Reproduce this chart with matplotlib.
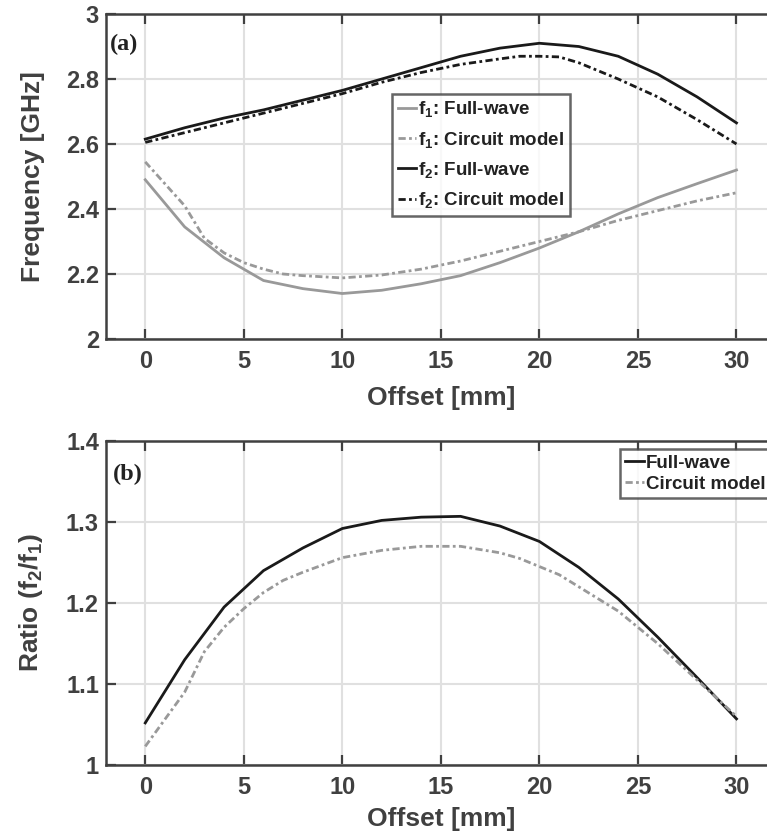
import matplotlib
matplotlib.use("Agg")
import matplotlib.pyplot as plt

plt.rcParams['font.family'] = ['Liberation Sans', 'DejaVu Sans']
plt.rcParams['font.weight'] = 'bold'
plt.rcParams['mathtext.fontset'] = 'custom'
plt.rcParams['mathtext.rm'] = 'Liberation Sans:bold'
plt.rcParams['mathtext.it'] = 'Liberation Sans:bold'
plt.rcParams['mathtext.bf'] = 'Liberation Sans:bold'

# ---- data ----
offset = [0, 2, 4, 6, 8, 10, 12, 14, 16, 18, 20, 22, 24, 26, 28, 30]
f1_full = [2.49, 2.345, 2.25, 2.18, 2.155, 2.14, 2.15, 2.17, 2.195, 2.235, 2.28, 2.33, 2.385, 2.435, 2.478, 2.52]
f2_full = [2.615, 2.65, 2.68, 2.705, 2.735, 2.765, 2.80, 2.835, 2.87, 2.895, 2.91, 2.90, 2.87, 2.815, 2.745, 2.665]

offset_cm = [0, 2, 3, 4, 5, 6, 7, 8, 10, 12, 14, 16, 18, 19, 20, 21, 22, 24, 26, 28, 30]
f1_circuit = [2.545, 2.41, 2.31, 2.265, 2.235, 2.215, 2.20, 2.195, 2.188, 2.197, 2.215, 2.24, 2.27, 2.285, 2.30, 2.315, 2.33, 2.365, 2.395, 2.425, 2.45]
f2_circuit = [2.605, 2.635, 2.65, 2.665, 2.68, 2.695, 2.71, 2.725, 2.755, 2.79, 2.82, 2.845, 2.862, 2.87, 2.87, 2.868, 2.85, 2.80, 2.745, 2.675, 2.60]

ratio_full = [1.052, 1.13, 1.195, 1.24, 1.268, 1.292, 1.302, 1.306, 1.307, 1.295, 1.276, 1.244, 1.205, 1.158, 1.108, 1.057]
ratio_circuit = [1.023, 1.09, 1.14, 1.17, 1.193, 1.213, 1.228, 1.238, 1.256, 1.265, 1.27, 1.27, 1.262, 1.255, 1.245, 1.235, 1.22, 1.19, 1.15, 1.105, 1.06]

xticks = [0, 5, 10, 15, 20, 25, 30]
yticks_a = [2, 2.2, 2.4, 2.6, 2.8, 3]
ytick_labels_a = ['2', '2.2', '2.4', '2.6', '2.8', '3']
yticks_b = [1, 1.1, 1.2, 1.3, 1.4]
ytick_labels_b = ['1', '1.1', '1.2', '1.3', '1.4']

GRAY = '#999999'
BLACK = '#1a1a1a'
SPINE = '#404040'
LW = 2.0
DASHDOT = (0, (2.6, 1.2, 1.0, 1.2))

fig = plt.figure(figsize=(7.67, 8.34), dpi=100)
ax1 = fig.add_axes([0.138, 0.5935, 0.8736, 0.3897])
ax2 = fig.add_axes([0.138, 0.0827, 0.8736, 0.3885])


def style(ax, xpad):
    ax.set_xlim(-2, 32)
    ax.set_xticks(xticks)
    ax.grid(True, color='#e0e0e0', linewidth=1.5)
    ax.set_axisbelow(True)
    for s in ax.spines.values():
        s.set_color(SPINE)
        s.set_linewidth(1.8)
    ax.tick_params(direction='in', length=7, width=1.6, color=SPINE,
                   labelsize=17, labelcolor=SPINE, top=True)
    ax.tick_params(axis='x', pad=8)
    ax.tick_params(axis='y', pad=5)
    for lab in ax.get_xticklabels() + ax.get_yticklabels():
        lab.set_fontweight('bold')
    ax.set_xlabel('Offset [mm]', fontsize=19, fontweight='bold', color=SPINE, labelpad=xpad)


ax1.plot(offset, f1_full, color=GRAY, lw=LW, label='f$_1$: Full-wave')
ax1.plot(offset_cm, f1_circuit, color=GRAY, lw=LW, linestyle=DASHDOT, label='f$_1$: Circuit model')
ax1.plot(offset, f2_full, color=BLACK, lw=LW, label='f$_2$: Full-wave')
ax1.plot(offset_cm, f2_circuit, color=BLACK, lw=LW, linestyle=DASHDOT, label='f$_2$: Circuit model')
ax1.set_ylim(2, 3)
ax1.set_yticks(yticks_a)
ax1.set_yticklabels(ytick_labels_a)
style(ax1, 9)
ax1.set_ylabel('Frequency [GHz]', fontsize=19, fontweight='bold', color=SPINE, labelpad=15)
ax1.text(0.006, 0.905, '(a)', transform=ax1.transAxes, fontsize=17.5, fontweight='bold',
         family='Liberation Serif', va='center', ha='left', color='#222222')
leg1 = ax1.legend(loc='upper left', bbox_to_anchor=(0.427, 0.755), fontsize=13.5,
                  frameon=True, fancybox=False, handlelength=1.0, handletextpad=0.1,
                  borderpad=0.3, labelspacing=0.55, borderaxespad=0)
leg1.get_frame().set_edgecolor(SPINE)
leg1.get_frame().set_linewidth(1.8)
for t in leg1.get_texts():
    t.set_fontweight('bold')
    t.set_color('#222222')

ax2.plot(offset, ratio_full, color=BLACK, lw=LW, label='Full-wave')
ax2.plot(offset_cm, ratio_circuit, color=GRAY, lw=LW, linestyle=DASHDOT, label='Circuit model')
ax2.set_ylim(1, 1.4)
ax2.set_yticks(yticks_b)
ax2.set_yticklabels(ytick_labels_b)
style(ax2, 6)
ax2.set_ylabel('Ratio (f$_2$/f$_1$)', fontsize=19, fontweight='bold', color=SPINE, labelpad=15)
ax2.text(0.01, 0.897, '(b)', transform=ax2.transAxes, fontsize=17.5, fontweight='bold',
         family='Liberation Serif', va='center', ha='left', color='#222222')
leg2 = ax2.legend(loc='upper left', bbox_to_anchor=(0.767, 0.975), fontsize=13.5,
                  frameon=True, fancybox=False, handlelength=1.0, handletextpad=0.1,
                  borderpad=0.3, labelspacing=0.2, borderaxespad=0)
leg2.get_frame().set_edgecolor(SPINE)
leg2.get_frame().set_linewidth(1.8)
for t in leg2.get_texts():
    t.set_fontweight('bold')
    t.set_color('#222222')

fig.savefig('out.png', dpi=100)
